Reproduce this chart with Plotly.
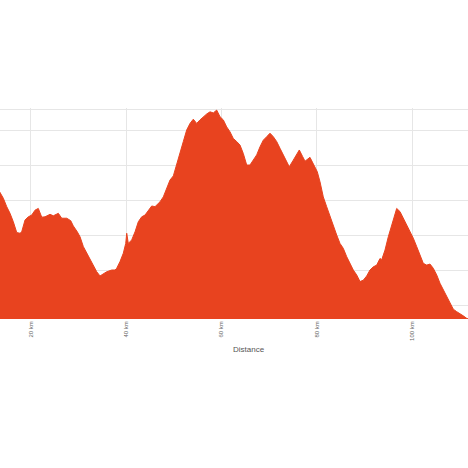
import plotly.graph_objects as go

distance_km = [13.5, 14.26, 14.97, 15.66, 16.35, 17.07, 17.76, 18.11, 18.81, 19.50, 20.21, 20.90, 21.59,
               22.31, 23.00, 24.05, 24.74, 25.79, 26.50, 27.55, 28.39, 28.93, 29.77, 30.34, 31.03, 31.74,
               32.43, 33.12, 33.84, 34.53, 35.22, 35.93, 36.98, 37.67, 38.03, 38.72, 39.41, 39.92, 40.13,
               40.46, 41.17, 41.87, 42.56, 43.27, 43.96, 44.65, 45.37, 46.06, 47.11, 47.80, 48.51, 49.20,
               49.90, 50.61, 51.30, 51.99, 52.70, 53.40, 54.09, 54.80, 55.49, 56.18, 56.90, 57.59, 58.28,
               58.99, 59.69, 60.38, 61.09, 61.78, 62.47, 63.19, 63.88, 64.57, 65.28, 65.97, 66.67, 67.38,
               68.07, 68.76, 69.48, 70.17, 70.86, 71.57, 72.26, 72.96, 73.67, 74.21, 75.05, 75.77, 76.31,
               77.02, 77.51, 78.55, 79.25, 80.08, 80.65, 81.34, 82.05, 82.75, 83.44, 84.15, 84.84, 85.53,
               86.25, 86.94, 87.63, 88.34, 89.04, 89.73, 90.44, 91.13, 91.82, 92.54, 93.23, 93.58, 94.28,
               94.97, 95.69, 96.37, 96.73, 97.42, 98.11, 98.83, 99.52, 100.21, 100.92, 101.61, 102.31,
               103.02, 103.71, 104.40, 105.12, 105.81, 106.50, 107.21, 107.90, 108.60, 109.31, 110.00,
               110.69, 111.40, 111.8]
elevation_m = [525, 507, 483, 464, 440, 409, 407, 411, 445, 454, 459, 473, 478,
               453, 454, 461, 457, 464, 450, 450, 443, 428, 411, 397, 369, 350,
               333, 314, 297, 285, 291, 297, 302, 302, 307, 326, 350, 378, 407,
               378, 388, 411, 440, 454, 459, 473, 485, 483, 497, 511, 535, 559,
               571, 602, 635, 669, 702, 721, 733, 721, 731, 740, 748, 754, 751,
               759, 740, 731, 711, 697, 678, 669, 659, 635, 602, 602, 618, 631,
               654, 673, 683, 693, 683, 669, 650, 631, 611, 597, 616, 631, 645,
               626, 613, 624, 607, 583, 554, 511, 483, 454, 426, 402, 378, 364,
               340, 321, 302, 288, 269, 273, 285, 302, 311, 316, 335, 331, 359,
               397, 431, 464, 478, 469, 450, 435, 416, 393, 369, 345, 321,
               316, 319, 307, 288, 264, 245, 226, 207, 190, 183, 178,
               171, 164, 162]

tick_km = [20, 40, 60, 80, 100]
tick_text = ["20 km", "40 km", "60 km", "80 km", "100 km"]
grid_elev = [200, 300, 400, 500, 600, 700, 762]
x_title = "Distance"

fig = go.Figure()
fig.add_trace(go.Scatter(
    x=distance_km, y=elevation_m, mode="lines",
    line=dict(color="#e8431f", width=1),
    fill="tozeroy", fillcolor="#e8431f",
    hoverinfo="skip", showlegend=False,
))

fig.update_layout(
    width=468, height=468,
    margin=dict(l=0, r=0, t=108, b=149, autoexpand=False),
    paper_bgcolor="white", plot_bgcolor="white",
    font=dict(family="Liberation Sans", color="#666666"),
    xaxis=dict(
        range=[13.56, 111.68], tickvals=tick_km, ticktext=tick_text,
        tickangle=-90, tickfont=dict(size=6, color="#666666"),
        showgrid=True, gridcolor="#e6e6e6", gridwidth=1,
        ticks="", ticklabelstandoff=0,
        zeroline=False, showline=False, automargin=False,
    ),
    yaxis=dict(
        range=[162, 765], tickvals=grid_elev, showticklabels=False,
        showgrid=True, gridcolor="#e6e6e6", gridwidth=1,
        zeroline=False, showline=False, ticks="", automargin=False,
    ),
    annotations=[dict(
        text=x_title, xref="paper", yref="paper", x=0.533, y=0,
        xanchor="center", yanchor="middle", yshift=-30, showarrow=False,
        font=dict(size=8, color="#555555", family="Liberation Sans"),
    )],
)

fig.write_html(
    "out.html",
    config={"displayModeBar": False, "staticPlot": True},
    post_script="document.body.style.margin='0';document.body.style.overflow='hidden';",
)
